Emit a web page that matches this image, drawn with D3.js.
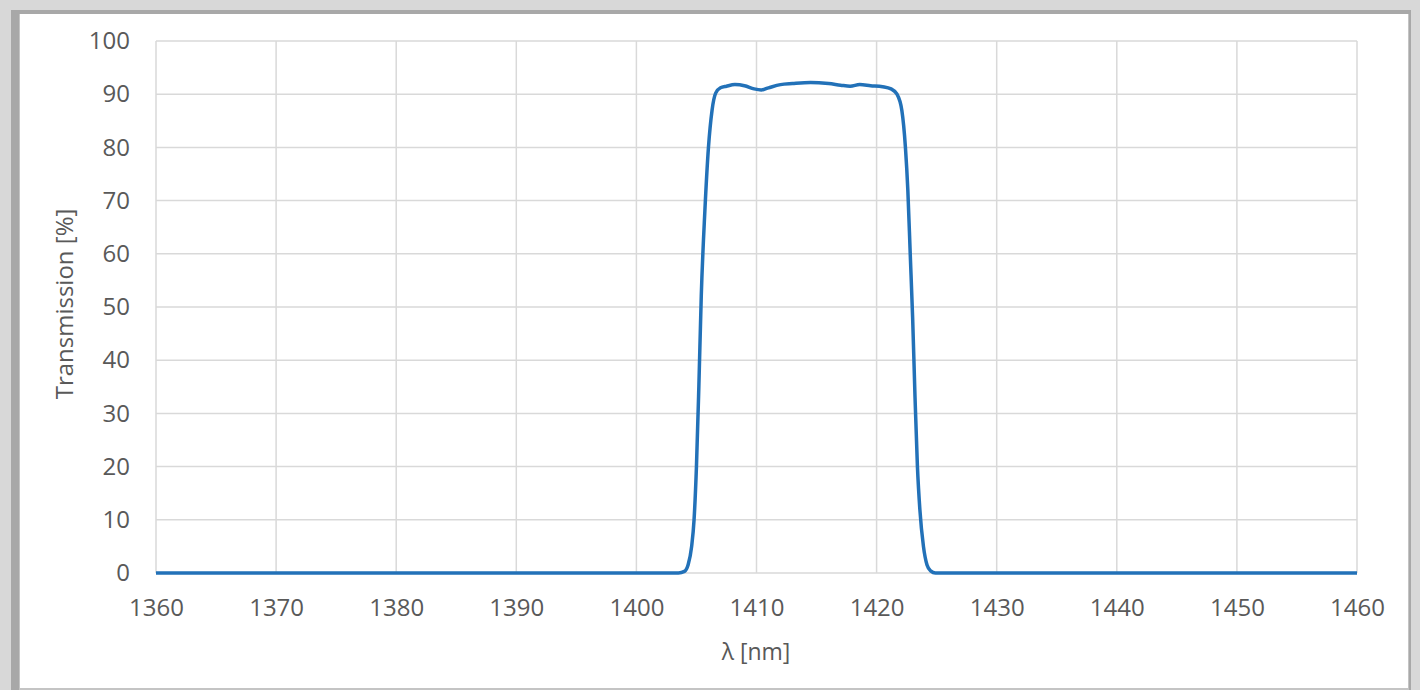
<!DOCTYPE html>
<html><head><meta charset="utf-8">
<script src="https://cdn.jsdelivr.net/npm/d3@7"></script>
<style>body{margin:0;background:#fff}svg{display:block}</style>
</head><body>
<svg id="c" width="1420" height="690"></svg>
<script>
const wavelength = [1360,1403.5,1404.0,1404.3,1404.6,1404.8,1405.0,1405.2,1405.4,1405.7,1406.0,1406.3,1406.6,1407.0,1407.5,1408.2,1409.0,1409.8,1410.4,1411.0,1412.0,1413.0,1414.5,1416.0,1417.0,1417.8,1418.6,1419.5,1420.5,1421.2,1421.7,1422.1,1422.4,1422.6,1422.8,1423.0,1423.2,1423.4,1423.6,1423.9,1424.2,1424.5,1424.9,1460];
const transmission = [0,0,0.3,1.5,5,10,20,35,52,68,80,87,90.2,91.2,91.5,91.8,91.6,91.0,90.8,91.2,91.8,92.0,92.2,92.0,91.7,91.5,91.8,91.6,91.4,91.0,90.0,87,80,72,60,48,33,20,12,5,1.5,0.4,0,0];
const xTicks = [1360,1370,1380,1390,1400,1410,1420,1430,1440,1450,1460];
const yTicks = [0,10,20,30,40,50,60,70,80,90,100];
const xTitle = "λ [nm]";
const yTitle = "Transmission [%]";

const svg = d3.select("#c");
// frame
svg.append("rect").attr("x",0).attr("y",0).attr("width",1420).attr("height",690).attr("fill","#d8d8d8");
svg.append("rect").attr("x",11).attr("y",10).attr("width",1400).attr("height",680).attr("fill","#a8a8a8");
svg.append("rect").attr("x",19).attr("y",14).attr("width",1390).attr("height",676).attr("fill","#c4c4c4");
svg.append("rect").attr("x",20).attr("y",14).attr("width",1388).attr("height",674).attr("fill","#ffffff");

const x = d3.scaleLinear().domain([1360,1460]).range([156,1357]);
const y = d3.scaleLinear().domain([0,100]).range([573,41]);
const font = "'Open Sans', sans-serif";

// grid
svg.append("g").selectAll("line").data(xTicks).join("line")
  .attr("x1",d=>x(d)).attr("x2",d=>x(d)).attr("y1",y(0)).attr("y2",y(100))
  .attr("stroke","#d9d9d9").attr("stroke-width",1.5);
svg.append("g").selectAll("line").data(yTicks).join("line")
  .attr("x1",x(1360)).attr("x2",x(1460)).attr("y1",d=>y(d)).attr("y2",d=>y(d))
  .attr("stroke","#d9d9d9").attr("stroke-width",1.5);

// axes
const xa = svg.append("g").attr("transform",`translate(0,${y(0)})`)
  .call(d3.axisBottom(x).tickValues(xTicks).tickSize(0).tickPadding(26).tickFormat(d3.format("d")));
const ya = svg.append("g").attr("transform",`translate(${x(1360)},0)`)
  .call(d3.axisLeft(y).tickValues(yTicks).tickSize(0).tickPadding(26).tickFormat(d3.format("d")));
[xa,ya].forEach(a=>{a.select(".domain").remove();
  a.selectAll("text").attr("fill","#595959").style("font-family",font).style("font-size","24px");});

svg.append("text").attr("x",756).attr("y",660).attr("text-anchor","middle")
  .attr("fill","#595959").style("font-family",font).style("font-size","23px").text(xTitle);
svg.append("text").attr("transform","translate(73,304) rotate(-90)").attr("text-anchor","middle")
  .attr("fill","#595959").style("font-family",font).style("font-size","24px").text(yTitle);

const data = wavelength.map((w,i)=>({w, t:transmission[i]}));
svg.append("path").datum(data)
  .attr("d", d3.line().x(d=>x(d.w)).y(d=>y(d.t)).curve(d3.curveMonotoneX))
  .attr("fill","none").attr("stroke","#2271b8").attr("stroke-width",3.5).attr("stroke-linejoin","round");
</script>
</body></html>
